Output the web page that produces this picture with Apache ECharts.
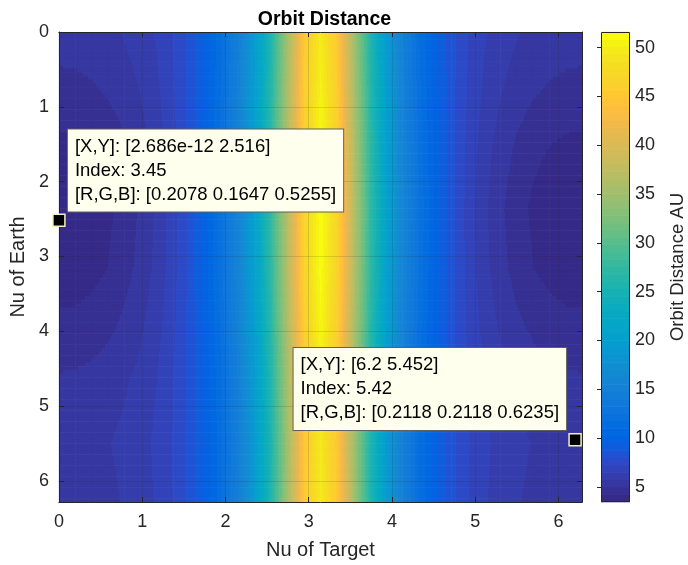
<!DOCTYPE html>
<html>
<head>
<meta charset="utf-8">
<script src="https://cdn.jsdelivr.net/npm/echarts@6/dist/echarts.min.js"></script>
<style>html,body{margin:0;padding:0;background:#fff}#chart{width:688px;height:565px}</style>
</head>
<body>
<div id="chart"></div>
<script>
// ---- data ----
const nuTarget = [0, 0.196, 0.393, 0.589, 0.785, 0.982, 1.178, 1.374, 1.571, 1.767, 1.963, 2.160, 2.356, 2.553, 2.749, 2.945, 3.142, 3.338, 3.534, 3.731, 3.927, 4.123, 4.320, 4.516, 4.712, 4.909, 5.105, 5.301, 5.498, 5.694, 5.890, 6.087, 6.283];
const nuEarth = [0, 0.785, 1.571, 2.356, 3.142, 3.927, 4.712, 5.498, 6.283];
const distY0 = [5.29, 5.32, 5.40, 5.54, 5.77, 6.10, 6.57, 7.26, 8.24, 9.67, 11.77, 14.89, 19.53, 26.34, 35.53, 45.22, 49.78, 45.22, 35.53, 26.34, 19.53, 14.89, 11.77, 9.67, 8.24, 7.26, 6.57, 6.10, 5.77, 5.54, 5.40, 5.32, 5.29];
const distY1 = [4.71, 4.75, 4.86, 5.05, 5.34, 5.76, 6.33, 7.13, 8.24, 9.80, 12.03, 15.26, 20.00, 26.89, 36.14, 45.86, 50.44, 45.86, 36.14, 26.89, 20.00, 15.26, 12.03, 9.80, 8.24, 7.13, 6.33, 5.76, 5.34, 5.05, 4.86, 4.75, 4.71];
const distY2 = [3.95, 4.00, 4.16, 4.42, 4.81, 5.34, 6.05, 6.99, 8.24, 9.94, 12.31, 15.67, 20.52, 27.50, 36.82, 46.59, 51.18, 46.59, 36.82, 27.50, 20.52, 15.67, 12.31, 9.94, 8.24, 6.99, 6.05, 5.34, 4.81, 4.42, 4.16, 4.00, 3.95];
const distY3 = [3.47, 3.53, 3.72, 4.04, 4.50, 5.10, 5.89, 6.91, 8.24, 10.02, 12.46, 15.88, 20.80, 27.83, 37.19, 46.98, 51.58, 46.98, 37.19, 27.83, 20.80, 15.88, 12.46, 10.02, 8.24, 6.91, 5.89, 5.10, 4.50, 4.04, 3.72, 3.53, 3.47];
const distY4 = [3.69, 3.74, 3.92, 4.21, 4.64, 5.21, 5.96, 6.94, 8.24, 9.99, 12.39, 15.79, 20.68, 27.68, 37.03, 46.81, 51.40, 46.81, 37.03, 27.68, 20.68, 15.79, 12.39, 9.99, 8.24, 6.94, 5.96, 5.21, 4.64, 4.21, 3.92, 3.74, 3.69];
const distY5 = [4.40, 4.44, 4.57, 4.79, 5.12, 5.58, 6.21, 7.07, 8.24, 9.86, 12.15, 15.43, 20.22, 27.15, 36.43, 46.17, 50.76, 46.17, 36.43, 27.15, 20.22, 15.43, 12.15, 9.86, 8.24, 7.07, 6.21, 5.58, 5.12, 4.79, 4.57, 4.44, 4.40];
const distY6 = [5.10, 5.13, 5.22, 5.38, 5.62, 5.98, 6.49, 7.21, 8.24, 9.72, 11.86, 15.02, 19.69, 26.53, 35.74, 45.44, 50.01, 45.44, 35.74, 26.53, 19.69, 15.02, 11.86, 9.72, 8.24, 7.21, 6.49, 5.98, 5.62, 5.38, 5.22, 5.13, 5.10];
const distY7 = [5.44, 5.46, 5.54, 5.67, 5.88, 6.19, 6.64, 7.29, 8.24, 9.64, 11.70, 14.79, 19.40, 26.18, 35.36, 45.04, 49.60, 45.04, 35.36, 26.18, 19.40, 14.79, 11.70, 9.64, 8.24, 7.29, 6.64, 6.19, 5.88, 5.67, 5.54, 5.46, 5.44];
const distY8 = [5.29, 5.32, 5.40, 5.54, 5.77, 6.10, 6.57, 7.26, 8.24, 9.67, 11.77, 14.89, 19.53, 26.34, 35.53, 45.22, 49.78, 45.22, 35.53, 26.34, 19.53, 14.89, 11.77, 9.67, 8.24, 7.26, 6.57, 6.10, 5.77, 5.54, 5.40, 5.32, 5.29];
const distRows = [distY0, distY1, distY2, distY3, distY4, distY5, distY6, distY7, distY8];

const colorMin = 3.45;
const colorMax = 51.6;
const axisTicks = [0, 1, 2, 3, 4, 5, 6];
const colorbarTicks = [5, 10, 15, 20, 25, 30, 35, 40, 45, 50];
const axisMax = 6.2832;

const tipPoints = [[2.686e-12, 2.516], [6.2, 5.452]];
const tipLines = [
  ['[X,Y]: [2.686e-12 2.516]', 'Index: 3.45', '[R,G,B]: [0.2078 0.1647 0.5255]'],
  ['[X,Y]: [6.2 5.452]', 'Index: 5.42', '[R,G,B]: [0.2118 0.2118 0.6235]']
];

// ---- parula colormap (style) ----
const PARULA = [
[0.2081,0.1663,0.5292],[0.2116,0.1898,0.5777],[0.2123,0.2138,0.6270],[0.2081,0.2386,0.6771],
[0.1959,0.2645,0.7279],[0.1707,0.2919,0.7792],[0.1253,0.3242,0.8303],[0.0591,0.3598,0.8683],
[0.0117,0.3875,0.8820],[0.0060,0.4086,0.8828],[0.0165,0.4266,0.8786],[0.0329,0.4430,0.8720],
[0.0498,0.4586,0.8641],[0.0629,0.4737,0.8554],[0.0723,0.4887,0.8467],[0.0779,0.5040,0.8384],
[0.0793,0.5200,0.8312],[0.0749,0.5375,0.8263],[0.0641,0.5570,0.8240],[0.0488,0.5772,0.8228],
[0.0343,0.5966,0.8199],[0.0265,0.6137,0.8135],[0.0239,0.6287,0.8038],[0.0231,0.6418,0.7913],
[0.0228,0.6535,0.7768],[0.0267,0.6642,0.7607],[0.0384,0.6743,0.7436],[0.0590,0.6838,0.7254],
[0.0843,0.6928,0.7062],[0.1133,0.7015,0.6859],[0.1453,0.7098,0.6646],[0.1801,0.7177,0.6424],
[0.2178,0.7250,0.6193],[0.2586,0.7317,0.5954],[0.3022,0.7376,0.5712],[0.3482,0.7424,0.5473],
[0.3953,0.7459,0.5244],[0.4420,0.7481,0.5033],[0.4871,0.7491,0.4840],[0.5300,0.7491,0.4661],
[0.5709,0.7485,0.4494],[0.6099,0.7473,0.4337],[0.6473,0.7456,0.4188],[0.6834,0.7435,0.4044],
[0.7184,0.7411,0.3905],[0.7525,0.7384,0.3768],[0.7858,0.7356,0.3633],[0.8185,0.7327,0.3498],
[0.8507,0.7299,0.3360],[0.8824,0.7274,0.3217],[0.9139,0.7258,0.3063],[0.9450,0.7261,0.2886],
[0.9739,0.7314,0.2666],[0.9938,0.7455,0.2403],[0.9990,0.7653,0.2164],[0.9955,0.7861,0.1967],
[0.9880,0.8066,0.1794],[0.9789,0.8271,0.1633],[0.9697,0.8481,0.1475],[0.9626,0.8705,0.1309],
[0.9589,0.8949,0.1132],[0.9598,0.9218,0.0948],[0.9661,0.9514,0.0755],[0.9763,0.9831,0.0538]
];
const NB = PARULA.length;
const bandStep = (colorMax - colorMin) / NB;
function bandIndex(v) {
  const k = Math.floor((v - colorMin) / bandStep);
  return Math.max(0, Math.min(NB - 1, k));
}
function bandColor(k) {
  const c = PARULA[k];
  return 'rgb(' + Math.round(c[0] * 255) + ',' + Math.round(c[1] * 255) + ',' + Math.round(c[2] * 255) + ')';
}
function stripFill(vl, vr) {
  const bl = bandIndex(vl), br = bandIndex(vr);
  if (bl === br) return bandColor(bl);
  const stops = [{ offset: 0, color: bandColor(bl) }];
  const dir = br > bl ? 1 : -1;
  for (let k = bl; k !== br; k += dir) {
    const boundary = colorMin + (dir > 0 ? k + 1 : k) * bandStep;
    let t = (boundary - vl) / (vr - vl);
    t = Math.max(0, Math.min(1, t));
    stops.push({ offset: t, color: bandColor(k) });
    stops.push({ offset: t, color: bandColor(k + dir) });
  }
  stops.push({ offset: 1, color: bandColor(br) });
  return { type: 'linear', x: 0, y: 0, x2: 1, y2: 0, global: false, colorStops: stops };
}

// cells built from the arrays
const cells = [];
for (let j = 0; j < nuEarth.length - 1; j++) {
  for (let i = 0; i < nuTarget.length - 1; i++) {
    cells.push([nuTarget[i], nuEarth[j], nuTarget[i + 1], nuEarth[j + 1],
      distRows[j][i], distRows[j][i + 1], distRows[j + 1][i], distRows[j + 1][i + 1]]);
  }
}

function renderCell(params, api) {
  const x0 = api.value(0), y0 = api.value(1), x1 = api.value(2), y1 = api.value(3);
  const v00 = api.value(4), v10 = api.value(5), v01 = api.value(6), v11 = api.value(7);
  const pA = api.coord([x0, y0]), pB = api.coord([x1, y1]);
  const left = Math.min(pA[0], pB[0]);
  const w = Math.abs(pB[0] - pA[0]);
  const K = 16;
  const children = [];
  for (let s = 0; s < K; s++) {
    const f = (s + 0.5) / K;
    const yS = pA[1] + (pB[1] - pA[1]) * s / K;
    const yE = pA[1] + (pB[1] - pA[1]) * (s + 1) / K;
    const vl = v00 + f * (v01 - v00);
    const vr = v10 + f * (v11 - v10);
    children.push({
      type: 'rect',
      shape: { x: left, y: Math.min(yS, yE), width: w + 0.6, height: Math.abs(yE - yS) + 0.6 },
      style: { fill: stripFill(vl, vr) }
    });
  }
  return { type: 'group', children: children };
}

function renderColorbar(params, api) {
  const children = [];
  for (let k = 0; k < NB; k++) {
    const a = api.coord([api.value(0), colorMin + k * bandStep]);
    const b = api.coord([api.value(2), colorMin + (k + 1) * bandStep]);
    children.push({
      type: 'rect',
      shape: { x: Math.min(a[0], b[0]), y: Math.min(a[1], b[1]) - 0.3, width: Math.abs(b[0] - a[0]), height: Math.abs(b[1] - a[1]) + 0.6 },
      style: { fill: bandColor(k) }
    });
  }
  const p0 = api.coord([api.value(0), api.value(1)]);
  const p1 = api.coord([api.value(2), api.value(3)]);
  children.push({
    type: 'rect',
    shape: { x: Math.round(Math.min(p0[0], p1[0])) + 0.5, y: Math.round(Math.min(p0[1], p1[1])) + 0.5,
             width: Math.round(Math.abs(p1[0] - p0[0])) - 1, height: Math.round(Math.abs(p1[1] - p0[1])) - 1 },
    style: { fill: null, stroke: '#262626', lineWidth: 1 }
  });
  return { type: 'group', children: children };
}

const FONT = '"Liberation Sans", Arial, Helvetica, sans-serif';
const AX = '#262626';
const gridLine = { show: true, lineStyle: { color: 'rgba(38,38,38,0.15)', width: 1 } };

function tipLabel(lines, side) {
  return {
    show: true, position: 'top', distance: side === 'left' ? 2 : 3,
    align: side, verticalAlign: 'bottom', offset: [side === 'left' ? 9 : -9, 0],
    formatter: lines.map(function (s) { return '{t|' + s + '}'; }).join('\n'),
    rich: { t: { align: 'left', fontSize: 18.5, lineHeight: 24, color: '#000', fontFamily: FONT } },
    backgroundColor: '#ffffee', borderColor: '#5f5f5f', borderWidth: 1,
    padding: [5, 7, 5, 7], opacity: 1
  };
}

const option = {
  animation: false,
  backgroundColor: '#ffffff',
  textStyle: { fontFamily: FONT },
  title: {
    text: 'Orbit Distance', left: 319.5, top: 5, textAlign: 'center',
    textStyle: { fontSize: 19.5, fontWeight: 'bold', color: '#000', fontFamily: FONT }
  },
  grid: [
    { left: 57, top: 32, width: 525, height: 470 },
    { left: 601, top: 32, width: 36, height: 470 }
  ],
  xAxis: [
    { gridIndex: 0, type: 'value', min: 0, max: axisMax, interval: 1, position: 'bottom', z: 5,
      name: 'Nu of Target', nameLocation: 'middle', nameGap: 38,
      nameTextStyle: { fontSize: 20, color: AX, fontFamily: FONT },
      axisLine: { show: true, onZero: false, lineStyle: { color: AX, width: 1 } },
      axisTick: { show: true, inside: true, length: 5, customValues: axisTicks, lineStyle: { color: AX } },
      axisLabel: { customValues: axisTicks, fontSize: 18, color: AX, margin: 11, fontFamily: FONT },
      splitLine: gridLine },
    { gridIndex: 0, type: 'value', min: 0, max: axisMax, position: 'top', z: 5,
      axisLine: { show: true, onZero: false, lineStyle: { color: AX, width: 1 } },
      axisTick: { show: true, inside: true, length: 5, customValues: axisTicks, lineStyle: { color: AX } },
      axisLabel: { show: false }, splitLine: { show: false } },
    { gridIndex: 1, type: 'value', min: 0, max: 1, show: false }
  ],
  yAxis: [
    { gridIndex: 0, type: 'value', min: 0, max: axisMax, interval: 1, inverse: true, position: 'left', z: 5,
      name: 'Nu of Earth', nameLocation: 'middle', nameGap: 20,
      nameTextStyle: { fontSize: 20, color: AX, fontFamily: FONT },
      axisLine: { show: true, onZero: false, lineStyle: { color: AX, width: 1 } },
      axisTick: { show: true, inside: true, length: 5, customValues: axisTicks, lineStyle: { color: AX } },
      axisLabel: { customValues: axisTicks, fontSize: 18, color: AX, margin: 10, fontFamily: FONT },
      splitLine: gridLine },
    { gridIndex: 0, type: 'value', min: 0, max: axisMax, inverse: true, position: 'right', z: 5,
      axisLine: { show: true, onZero: false, lineStyle: { color: AX, width: 1 } },
      axisTick: { show: true, inside: true, length: 5, customValues: axisTicks, lineStyle: { color: AX } },
      axisLabel: { show: false }, splitLine: { show: false } },
    { gridIndex: 1, type: 'value', min: colorMin, max: colorMax, position: 'right', z: 5,
      name: 'Orbit Distance AU', nameLocation: 'middle', nameGap: 38,
      nameTextStyle: { fontSize: 18.5, color: AX, fontFamily: FONT },
      axisLine: { show: false },
      axisTick: { show: true, inside: true, length: 4, customValues: colorbarTicks, lineStyle: { color: AX } },
      axisLabel: { customValues: colorbarTicks, fontSize: 18, color: AX, margin: 5, fontFamily: FONT },
      splitLine: { show: false } }
  ],
  series: [
    { type: 'custom', name: 'Orbit Distance', xAxisIndex: 0, yAxisIndex: 0, z: 1, silent: true,
      renderItem: renderCell, data: cells, encode: { x: [0, 2], y: [1, 3] } },
    { type: 'custom', name: 'colorbar', xAxisIndex: 2, yAxisIndex: 2, z: 1, silent: true,
      renderItem: renderColorbar, data: [[0, colorMin, 1, colorMax]], encode: { x: [0, 2], y: [1, 3] } },
    { type: 'scatter', name: 'datatips', xAxisIndex: 0, yAxisIndex: 0, z: 10, clip: false, silent: true,
      symbol: 'rect', symbolSize: 12,
      itemStyle: { color: '#000', borderColor: '#f3efc4', borderWidth: 1.5, opacity: 1 },
      data: [
        { value: tipPoints[0], label: tipLabel(tipLines[0], 'left') },
        { value: tipPoints[1], label: tipLabel(tipLines[1], 'right') }
      ] }
  ]
};

const chart = echarts.init(document.getElementById('chart'), null, { renderer: 'canvas', width: 688, height: 565 });
chart.setOption(option);
</script>
</body>
</html>
